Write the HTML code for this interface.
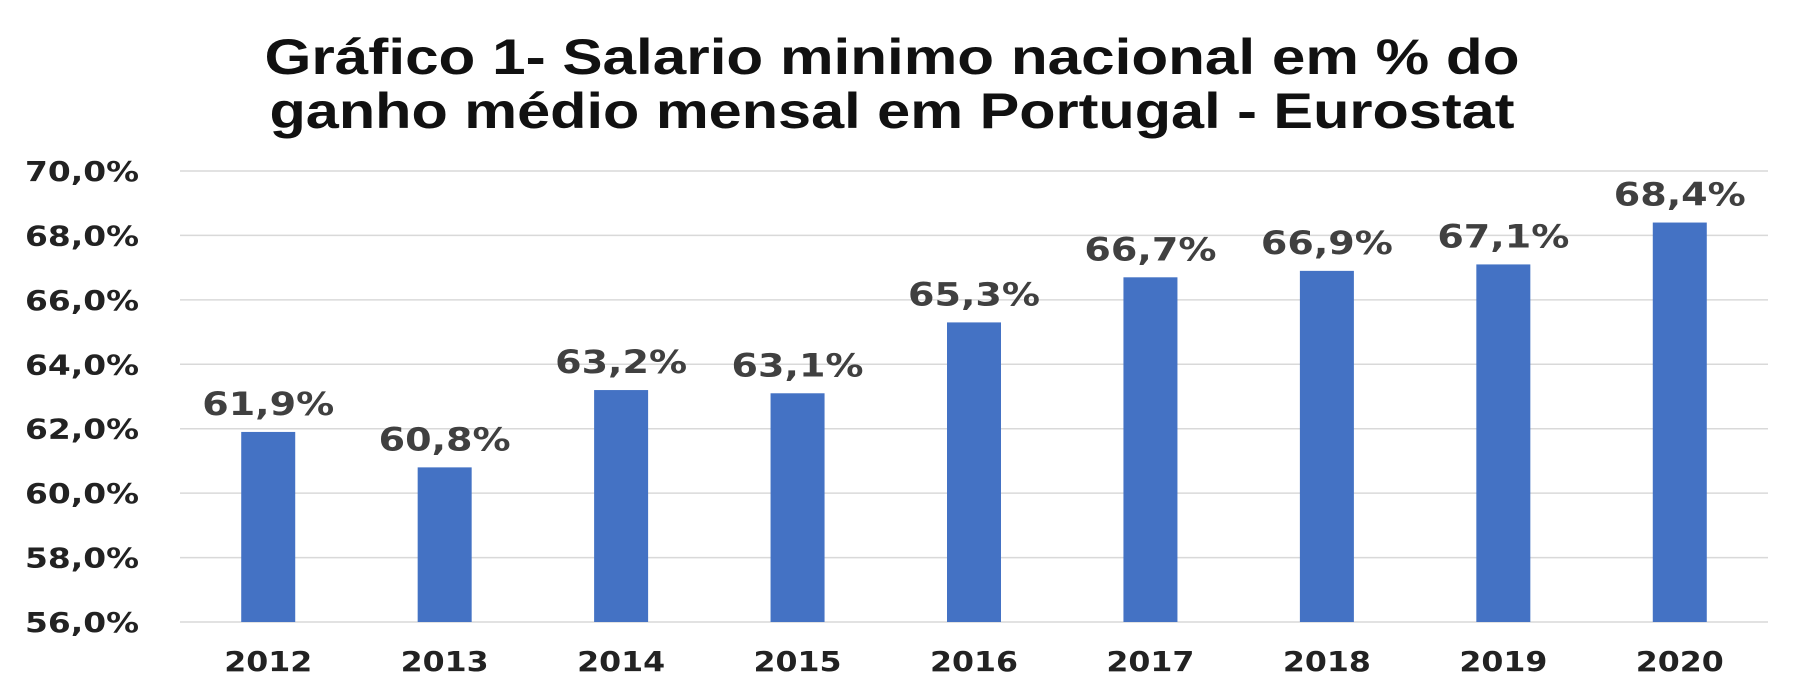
<!DOCTYPE html>
<html><head><meta charset="utf-8"><style>
html,body{margin:0;padding:0;background:#fff;}
svg{display:block;font-family:"DejaVu Sans","Liberation Sans",sans-serif;font-weight:bold;}
</style></head><body>
<svg id="chart" width="1816" height="694" viewBox="0 0 1816 694">
<text x="892" y="74" text-anchor="middle" font-size="50" fill="#111" textLength="1255" lengthAdjust="spacingAndGlyphs" style="font-family:'Liberation Sans',sans-serif">Gráfico 1- Salario minimo nacional em %  do</text>
<text x="892" y="128" text-anchor="middle" font-size="50" fill="#111" textLength="1245" lengthAdjust="spacingAndGlyphs" style="font-family:'Liberation Sans',sans-serif">ganho médio mensal em Portugal - Eurostat</text>
<g id="grid"></g><g id="bars"></g><g id="labels"></g>
</svg>
<script>
const categories=["2012","2013","2014","2015","2016","2017","2018","2019","2020"];
const values=[61.9,60.8,63.2,63.1,65.3,66.7,66.9,67.1,68.4];
const valueLabels=["61,9%","60,8%","63,2%","63,1%","65,3%","66,7%","66,9%","67,1%","68,4%"];
const yTicks=[56,58,60,62,64,66,68,70];
const yTickLabels=["56,0%","58,0%","60,0%","62,0%","64,0%","66,0%","68,0%","70,0%"];
const NS="http://www.w3.org/2000/svg";
const L=180,R=1768,T=171,B=622,yMin=56,yMax=70;
const y=v=>B-(v-yMin)/(yMax-yMin)*(B-T);
const bw=(R-L)/categories.length;
const x=i=>L+bw*(i+0.5);
const grid=document.getElementById('grid'),bars=document.getElementById('bars'),labels=document.getElementById('labels');
function mk(tag,attrs,parent,txt){const e=document.createElementNS(NS,tag);for(const k in attrs)e.setAttribute(k,attrs[k]);if(txt!==undefined)e.textContent=txt;parent.appendChild(e);return e;}
yTicks.forEach((t,i)=>{
 const l=mk('line',{x1:L,x2:R,y1:y(t),y2:y(t),stroke:'#d9d9d9','stroke-width':1.5},grid);
 
 
 const tx=mk('text',{x:139,y:y(t)+10,'text-anchor':'end','font-size':28,fill:'#222',textLength:114,lengthAdjust:'spacingAndGlyphs'},labels,yTickLabels[i]);
 
 
});
categories.forEach((c,i)=>{
 const r=mk('rect',{x:x(i)-27,y:y(values[i]),width:54,height:B-y(values[i]),fill:'#4472c4'},bars);
 
 
 const v=mk('text',{x:x(i),y:y(values[i])-17,'text-anchor':'middle','font-size':32,fill:'#404040',textLength:132,lengthAdjust:'spacingAndGlyphs'},labels,valueLabels[i]);
 
 
 const xl=mk('text',{x:x(i),y:671,'text-anchor':'middle','font-size':28,fill:'#222',textLength:88,lengthAdjust:'spacingAndGlyphs'},labels,c);
 
 
});
</script>
</body></html>
